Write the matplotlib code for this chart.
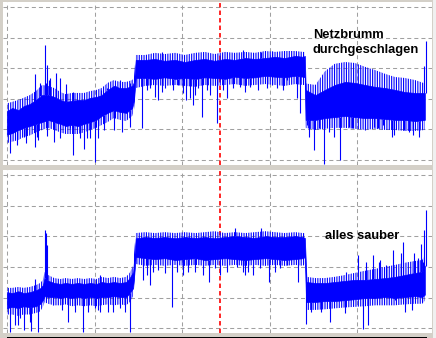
import matplotlib
matplotlib.use("Agg")
import matplotlib.pyplot as plt
import numpy as np
from matplotlib.patches import Rectangle

# time axis in units where one grid division = 100, level: one division = 10
t_top = [0, 6, 13, 19, 26, 33, 40, 47, 54, 61,
         67, 74, 81, 88, 95, 102, 108, 115, 122, 129,
         136, 143, 145, 147, 158, 169, 180, 192, 203, 215,
         226, 237, 249, 260, 272, 283, 295, 306, 317, 329,
         338, 340, 341, 352, 363, 374, 386, 397, 409, 420,
         432, 443, 454, 466, 477]
top_core_hi = [16.0, 17.0, 16.3, 17.6, 18.3, 19.6, 21.2, 21.2, 20.6, 19.6,
               19.0, 19.3, 19.6, 19.6, 20.3, 20.6, 21.2, 22.9, 24.2, 23.5,
               23.5, 24.2, 25.5, 32.7, 32.7, 33.0, 32.4, 32.7, 32.0, 32.7,
               33.0, 32.4, 33.0, 32.7, 33.3, 33.0, 33.3, 33.7, 33.3, 34.0,
               33.7, 34.0, 22.9, 21.2, 22.9, 24.5, 25.5, 25.2, 24.5, 23.9,
               23.5, 22.9, 22.2, 21.9, 21.9]
top_core_lo = [8.3, 8.8, 9.8, 10.5, 11.1, 11.8, 12.4, 13.1, 12.4, 11.8,
               11.1, 11.5, 11.1, 11.8, 12.4, 13.1, 14.4, 15.4, 16.3, 15.7,
               15.4, 17.0, 19.6, 26.8, 26.8, 26.5, 27.0, 26.5, 26.8, 26.5,
               27.0, 26.8, 26.5, 27.2, 26.8, 27.0, 27.5, 27.2, 27.0, 27.5,
               27.2, 27.0, 13.1, 13.1, 13.7, 14.0, 14.4, 14.0, 13.7, 13.7,
               13.4, 13.1, 13.1, 12.7, 13.1]
top_fringe_hi = [18.5, 19.0, 19.6, 20.3, 21.2, 22.5, 24.5, 24.2, 23.5, 22.2,
                 21.5, 21.9, 21.9, 21.9, 22.5, 22.9, 23.5, 25.2, 26.1, 25.5,
                 25.5, 26.1, 27.0, 34.3, 34.3, 35.0, 34.6, 35.0, 34.3, 35.0,
                 35.3, 34.6, 35.3, 35.0, 35.3, 35.0, 35.6, 35.3, 35.6, 35.6,
                 35.3, 35.3, 25.0, 24.5, 29.0, 31.4, 32.0, 31.7, 30.4, 29.4,
                 28.1, 27.1, 26.8, 26.1, 25.0]
top_fringe_lo = [5.5, 6.0, 6.5, 7.5, 8.0, 9.0, 9.8, 10.5, 9.8, 9.0,
                 8.5, 8.5, 8.5, 9.0, 9.8, 10.5, 11.4, 12.4, 13.7, 13.1,
                 12.7, 14.4, 16.3, 23.5, 24.2, 24.5, 24.2, 24.5, 24.2, 23.9,
                 24.5, 24.2, 24.5, 24.8, 24.2, 24.5, 24.8, 24.5, 24.2, 24.8,
                 24.5, 24.5, 10.5, 9.8, 10.2, 10.5, 10.5, 10.2, 9.8, 10.2,
                 9.8, 9.8, 9.5, 9.5, 9.8]
top_up_t = [32, 38, 43, 44.9, 46, 47.6, 49, 56, 60.9, 67.7,
            75.7, 107.3, 114.2, 124.4, 129.4, 140.8, 176.6, 269.8, 289.6, 302.5,
            476, 478]
top_up_y = [28.1, 25.2, 37.6, 25.1, 31.0, 26.1, 26.8, 28.4, 26.7, 24.8,
            22.3, 22.9, 23.4, 24.2, 26.1, 25.3, 35.4, 35.9, 35.4, 35.6,
            30.7, 38.9]
top_down_t = [3, 11.4, 19, 22, 32, 34.2, 35, 45.7, 53.3, 60.9,
              72.3, 75, 83, 88, 91.3, 95, 100, 103.5, 110.4, 121.8,
              131.3, 140, 154, 159.5, 163.2, 168.9, 172, 176.6, 180.4, 189.9,
              195.6, 200.6, 204, 208.9, 212, 214.6, 218.4, 223, 227.9, 232,
              240, 246.9, 251.5, 258.3, 266, 271.7, 277.4, 286.9, 296.5, 302.2,
              307.9, 315.5, 319.4, 331, 334, 342.5, 344.4, 351, 356.5, 362,
              368, 373, 380, 390.8, 394, 409, 419.3, 424, 428.9, 440,
              442.1, 453, 459.3, 464, 470.7]
top_down_y = [2.3, 4.9, 7.6, 5.6, 4.2, 7.6, 6.5, 7.8, 6.0, 7.1,
              10.4, 1.6, 7.2, 3.6, 7.1, 7.2, -0.7, 7.1, 9.8, 9.8,
              9.2, 10.8, 10.5, 22.9, 23.4, 20.7, 19.6, 22.3, 23.4, 22.9,
              24.5, 21.8, 19.6, 20.2, 18.0, 21.2, 23.4, 14.1, 22.9, 21.2,
              12.1, 22.9, 20.2, 23.4, 24.0, 22.3, 24.0, 22.9, 23.4, 24.5,
              23.4, 22.9, 26.1, 20.3, 15.4, 11.4, 7.6, 3.3, 10.4, -1.3,
              9.2, 7.5, 0.0, 10.9, 10.5, 9.8, 10.9, 10.5, 11.4, 7.5,
              8.2, 9.8, 9.2, 8.2, 7.6]

t_bot = [0, 6, 13, 19, 26, 33, 38, 41, 43, 47,
         54, 61, 67, 74, 81, 88, 95, 102, 108, 115,
         122, 129, 136, 140, 144, 147, 158, 169, 180, 192,
         203, 215, 226, 237, 249, 260, 272, 283, 295, 306,
         317, 329, 338, 340, 342, 352, 363, 374, 386, 397,
         409, 420, 432, 443, 454, 466, 474, 477]
bot_core_hi = [11.8, 11.5, 12.1, 11.5, 11.8, 12.4, 13.1, 14.1, 16.4, 15.5,
               14.8, 14.5, 14.8, 14.5, 14.8, 14.5, 14.8, 14.5, 15.1, 14.8,
               15.1, 14.8, 15.1, 16.4, 18.4, 29.4, 29.8, 29.5, 29.8, 29.4,
               29.8, 29.5, 29.8, 29.4, 29.8, 30.1, 29.8, 29.5, 30.1, 29.8,
               29.8, 30.1, 29.8, 29.5, 15.1, 14.8, 14.8, 15.1, 15.5, 15.8,
               15.8, 16.1, 16.4, 16.8, 17.4, 18.1, 18.4, 20.5]
bot_core_lo = [6.6, 7.0, 6.6, 7.2, 6.9, 7.2, 8.0, 9.2, 10.5, 10.2,
               10.2, 9.9, 10.2, 9.9, 10.2, 9.9, 10.2, 9.9, 10.2, 10.2,
               10.5, 10.2, 10.2, 11.5, 13.1, 23.3, 22.9, 22.6, 22.9, 22.3,
               22.6, 22.9, 22.3, 22.6, 22.9, 22.6, 22.3, 22.6, 22.9, 22.6,
               22.3, 22.6, 22.9, 23.3, 8.6, 8.6, 8.9, 8.9, 9.2, 9.5,
               9.9, 9.9, 10.2, 9.9, 10.2, 10.5, 10.2, 11.0]
bot_fringe_hi = [13.2, 13.2, 13.5, 13.2, 13.5, 14.1, 14.8, 15.8, 18.4, 17.4,
                 16.4, 16.1, 16.4, 16.1, 16.4, 16.1, 16.4, 16.1, 16.8, 16.4,
                 16.8, 16.4, 16.8, 18.1, 20.4, 31.1, 31.4, 31.1, 31.4, 31.1,
                 31.4, 31.1, 31.4, 31.7, 31.1, 31.4, 31.1, 31.4, 31.7, 31.4,
                 31.1, 31.4, 31.1, 31.1, 16.8, 16.4, 16.4, 16.8, 17.4, 18.1,
                 18.8, 19.4, 20.1, 20.7, 21.4, 22.0, 22.3, 24.0]
bot_fringe_lo = [4.5, 4.5, 4.0, 4.5, 4.5, 5.0, 5.5, 7.0, 8.5, 8.0,
                 7.5, 7.5, 7.8, 7.2, 7.5, 7.2, 7.5, 7.2, 7.5, 7.8,
                 7.5, 7.8, 7.5, 8.5, 10.5, 21.0, 20.4, 20.7, 20.4, 20.7,
                 20.4, 20.7, 20.4, 20.7, 20.4, 20.7, 20.4, 20.7, 20.4, 20.7,
                 20.4, 20.7, 20.4, 21.0, 6.0, 6.0, 6.2, 6.5, 6.8, 7.0,
                 7.2, 7.5, 7.5, 7.5, 7.8, 8.0, 8.0, 9.0]
bot_up_t = [32, 43, 44.5, 46, 106.2, 260, 290, 387, 401, 410,
            418, 425, 426, 432.7, 441, 449.8, 452, 465, 468.9, 473,
            474.6, 476, 478]
bot_up_y = [16.1, 32.1, 31.1, 27.2, 17.4, 32.8, 32.8, 18.3, 24.0, 21.7,
            24.0, 21.8, 22.3, 20.7, 25.6, 24.5, 28.2, 24.6, 22.9, 27.5,
            21.8, 32.1, 38.7]
bot_down_t = [3, 9.1, 13, 14.8, 20, 26, 28, 35, 52.9, 62.4,
              70, 77.6, 87, 92.8, 100.5, 104, 106.2, 115, 121.4, 129,
              134.7, 140, 155, 159.5, 163, 167, 172.7, 180.4, 188, 193.7,
              200.6, 207, 214.6, 224.1, 231, 237.5, 243, 251.5, 262.2, 269.8,
              272, 275.5, 281.2, 288.8, 299, 306, 311.7, 319.3, 332, 341,
              347, 358, 369, 386, 406, 412, 443, 454, 462, 474]
bot_down_y = [-1.2, 1.1, 1.1, 3.3, -0.5, 2.1, -1.0, -1.2, 7.6, 6.0,
              2.1, 5.4, -1.2, 5.4, 6.5, 6.0, 5.4, 5.3, 5.4, 6.5,
              5.4, -1.2, 15.8, 17.4, 14.1, 18.5, 19.1, 18.0, 7.0, 18.5,
              17.4, 18.5, 18.5, 17.4, 15.1, 19.6, 17.4, 18.5, 20.1, 18.5,
              17.4, 18.5, 17.4, 19.6, 15.1, 18.5, 19.6, 20.7, 15.1, 1.4,
              5.3, 5.3, 2.1, 5.0, -0.2, 1.1, 9.2, 5.3, 6.0, 8.6]

marker_t = 243.5
label_top = ["Netzbrumm", "durchgeschlagen"]
label_bot = "alles sauber"

BLUE = "#0000ff"
BG = "#d4d0c8"

plt.rcParams["lines.scale_dashes"] = False
plt.rcParams["hatch.linewidth"] = 0.8

fig = plt.figure(figsize=(4.36, 3.38), dpi=100, facecolor=BG)
ax1 = fig.add_axes([2.5 / 436, 173 / 338, 429 / 436, 163 / 338])
ax2 = fig.add_axes([2.5 / 436, 5 / 338, 429 / 436, 163 / 338])


def draw_panel(ax, t, core_hi, core_lo, fr_hi, fr_lo, up_t, up_y, dn_t, dn_y, ylim):
    ax.set_facecolor("white")
    ax.set_xlim(-5.1, 484.6)
    ax.set_ylim(*ylim)
    ax.set_xticks([0, 100, 200, 300, 400])
    ax.set_yticks([0, 10, 20, 30, 40, 50])
    ax.tick_params(length=0, labelbottom=False, labelleft=False)
    for s in ax.spines.values():
        s.set_visible(False)
    ax.grid(True, color="#a0a0a0", linestyle=(0, (2.9, 2.2)), linewidth=0.75)
    ax.set_axisbelow(True)
    ax.axvline(marker_t, color="#ff0000", linestyle=(0, (3.2, 2.2)), linewidth=1.2, zorder=1)
    # noisy outer fringe as dense vertical strokes, solid core on top
    ax.fill_between(t, fr_lo, fr_hi, facecolor="none", edgecolor=BLUE,
                    hatch="|||||||", linewidth=0, zorder=2)
    ax.fill_between(t, core_lo, core_hi, color=BLUE, linewidth=0.5, zorder=3)
    # single spikes start at the edge of the dense band
    ax.vlines(up_t, np.interp(up_t, t, core_hi), up_y, color=BLUE, linewidth=0.8, zorder=3)
    ax.vlines(dn_t, np.interp(dn_t, t, core_lo), dn_y, color=BLUE, linewidth=0.8, zorder=3)


draw_panel(ax1, t_top, top_core_hi, top_core_lo, top_fringe_hi, top_fringe_lo,
           top_up_t, top_up_y, top_down_t, top_down_y, (-1.63, 51.6))
draw_panel(ax2, t_bot, bot_core_hi, bot_core_lo, bot_fringe_hi, bot_fringe_lo,
           bot_up_t, bot_up_y, bot_down_t, bot_down_y, (-1.54, 51.7))

font = dict(family="Liberation Sans", fontweight="bold", fontsize=9.3, color="black", zorder=5)
ax1.text(349, 40.0, label_top[0], **font)
ax1.text(349, 35.0, label_top[1], **font)
ax2.text(363, 29.0, label_bot, **font)

# window frame bits
fig.add_artist(Rectangle((7 / 436, 0), 420 / 436, 1.5 / 338,
                         transform=fig.transFigure, color="black", linewidth=0))
fig.add_artist(Rectangle((433 / 436, 0), 3 / 436, 1,
                         transform=fig.transFigure, color="#f0f0f0", linewidth=0))

fig.savefig("out.png", dpi=100, facecolor=BG)
